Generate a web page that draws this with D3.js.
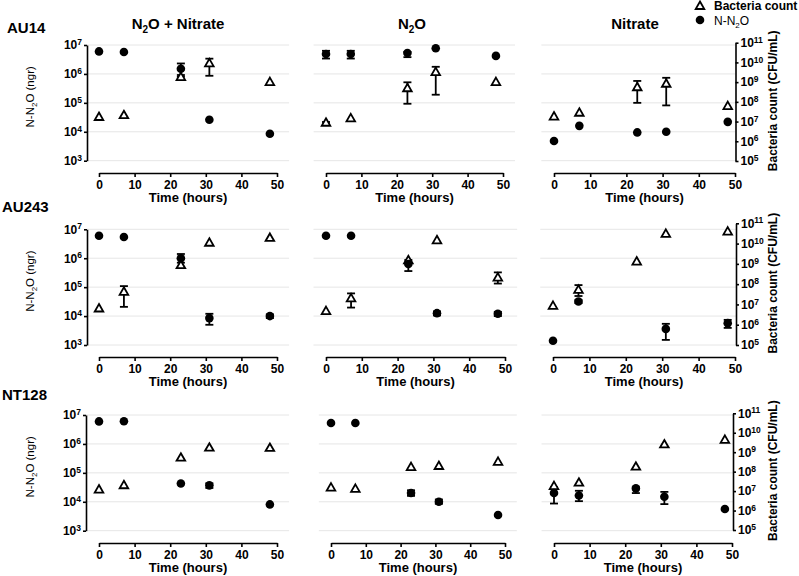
<!DOCTYPE html>
<html>
<head>
<meta charset="utf-8">
<script src="https://cdn.jsdelivr.net/npm/d3@7"></script>
<style>
  body { margin: 0; background: #fff; }
  svg { font-family: "Liberation Sans", Arial, sans-serif; }
  .axis path, .axis line { stroke: #000; stroke-width: 1.6px; }
  .axis text { fill: #000; font-weight: bold; font-size: 12px; }
</style>
</head>
<body>
<svg id="chart" width="799" height="576"></svg>
<script>
// ---------- DATA ----------
const strains = ["AU14", "AU243", "NT128"];
const conditions = ["N2O + Nitrate", "N2O", "Nitrate"];
const times = [0, 7, 23, 31, 48];
const xTicks = [0, 10, 20, 30, 40, 50];
const leftTicks = [1e3, 1e4, 1e5, 1e6, 1e7];
const rightTicks = [1e5, 1e6, 1e7, 1e8, 1e9, 1e10, 1e11];

// N-N2O (ngr), per condition [N2O + Nitrate, N2O, Nitrate]
const n2oAU14 = [
  [6e6, 5.7e6, 1.5e6, 2.6e4, 8.5e3],
  [4.9e6, 4.9e6, 5.3e6, 7.7e6, 4.2e6],
  [4.8e3, 1.6e4, 9.5e3, 1e4, 2.2e4]
];
const n2oErrAU14 = [
  [null, null, [8e5, 2.3e6], null, null],
  [[3.4e6, 6.3e6], [3.4e6, 6.3e6], [3.8e6, 5.8e6], null, null],
  [null, null, null, null, null]
];
const n2oAU243 = [
  [6e6, 5.4e6, 1e6, 8.5e3, 1e4],
  [6e6, 6e6, 6.3e5, 1.26e4, 1.2e4],
  [1.4e3, 3.2e4, null, 3.6e3, 5.7e3]
];
const n2oErrAU243 = [
  [null, null, [7e5, 1.4e6], [5e3, 1.2e4], [8.5e3, 1.15e4]],
  [null, null, [3.6e5, 8.7e5], [1.05e4, 1.45e4], [1e4, 1.4e4]],
  [null, [2.8e4, 3.6e4], null, [1.5e3, 5.4e3], [3.9e3, 7.4e3]]
];
const n2oNT128 = [
  [6e6, 6.1e6, 4.3e4, 3.7e4, 8.1e3],
  [5.3e6, 5.3e6, 2e4, 1e4, 3.5e3],
  [2e4, 1.65e4, 2.9e4, 1.5e4, 5.6e3]
];
const n2oErrNT128 = [
  [null, null, null, [3e4, 4.3e4], null],
  [null, null, [1.6e4, 2.5e4], [8.5e3, 1.2e4], null],
  [[8.7e3, 3.2e4], [1.05e4, 2.4e4], [2e4, 3.2e4], [8.3e3, 2.2e4], null]
];

// Bacteria count (CFU/mL)
const bactAU14 = [
  [1.7e7, 2.1e7, 1.8e9, 8.9e9, 1e9],
  [8.7e6, 1.45e7, 4.9e8, 3.2e9, 1e9],
  [1.8e7, 2.8e7, 5.5e8, 8.3e8, 6.1e7]
];
const bactErrAU14 = [
  [null, null, [1.3e9, 2.3e9], [2.1e9, 1.55e10], null],
  [[7e6, 9.5e6], null, [8e7, 9.8e8], [2.3e8, 6e9], null],
  [null, null, [8.9e7, 1.15e9], [6.6e7, 1.66e9], null]
];
const bactAU243 = [
  [6.3e6, 4.2e7, 8.6e8, 1.1e10, 1.9e10],
  [4.7e6, 2e7, 1.5e9, 1.45e10, 2.1e8],
  [8.5e6, 5.2e7, 1.3e9, 3e10, 3.9e10]
];
const bactErrAU243 = [
  [null, [7.6e6, 8e7], null, null, null],
  [null, [7e6, 3.5e7], null, null, [1.07e8, 3.8e8]],
  [null, [2.6e7, 9e7], null, null, null]
];
const bactNT128 = [
  [1.2e7, 2e7, 5.2e8, 1.7e9, 1.65e9],
  [1.5e7, 1.3e7, 1.7e8, 1.95e8, 3.2e8],
  [1.8e7, 2.7e7, 1.8e8, 2.5e9, 4.3e9]
];
const bactErrNT128 = [
  [null, null, null, null, null],
  [null, null, null, null, null],
  [null, null, null, null, null]
];

const n2oByStrain = [n2oAU14, n2oAU243, n2oNT128];
const n2oErrByStrain = [n2oErrAU14, n2oErrAU243, n2oErrNT128];
const bactByStrain = [bactAU14, bactAU243, bactNT128];
const bactErrByStrain = [bactErrAU14, bactErrAU243, bactErrNT128];

// ---------- LAYOUT ----------
const rowLayout = [
  { topL: 45, botL: 160.7, topR: 42.7, botR: 161, axisY: 173, leftX: 87, rightX: 735.5, labelY: 27 },
  { topL: 229.3, botL: 345, topR: 223.3, botR: 345, axisY: 357, leftX: 87, rightX: 736, labelY: 206 },
  { topL: 415, botL: 530.7, topR: 413.3, botR: 530, axisY: 543, leftX: 86, rightX: 733, labelY: 394 }
];
const colLayout = [
  [[99, 277], [326, 503], [554, 735]],
  [[99, 277], [326, 505], [553, 735]],
  [[99, 277], [331, 505], [554, 732]]
];

const svg = d3.select("#chart");

function supLabel(sel, d) {
  sel.text(null);
  sel.append("tspan").text("10");
  sel.append("tspan").attr("dy", "-0.5em").attr("font-size", "8.5px").text(Math.round(Math.log10(d)));
}

function triPath(cx, cy) {
  const h = 7.5, w = 4.3;
  return `M${cx},${cy - h * 0.6}L${cx + w},${cy + h * 0.4}L${cx - w},${cy + h * 0.4}Z`;
}

// legend
const leg = svg.append("g");
leg.append("path").attr("d", triPath(700, 6)).attr("fill", "#fff").attr("stroke", "#000").attr("stroke-width", 1.8);
leg.append("text").attr("x", 714).attr("y", 10).attr("font-size", 12).attr("font-weight", "bold").text("Bacteria count");
leg.append("circle").attr("cx", 700).attr("cy", 20).attr("r", 4.3).attr("fill", "#000");
const lt = leg.append("text").attr("x", 714).attr("y", 24.5).attr("font-size", 12);
lt.append("tspan").text("N-N");
lt.append("tspan").attr("font-size", 8).attr("dy", 3).text("2");
lt.append("tspan").attr("dy", -3).text("O");

// column titles
const titleCx = [178, 412, 635];
conditions.forEach((c, ci) => {
  const t = svg.append("text").attr("x", titleCx[ci]).attr("y", 29).attr("text-anchor", "middle")
    .attr("font-size", 15).attr("font-weight", "bold");
  if (c.startsWith("N2O")) {
    t.append("tspan").text("N");
    t.append("tspan").attr("font-size", 10).attr("dy", 4).text("2");
    t.append("tspan").attr("dy", -4).text("O" + c.slice(3));
  } else {
    t.text(c);
  }
});

strains.forEach((strain, ri) => {
  const R = rowLayout[ri];
  svg.append("text").attr("x", ri === 0 ? 7 : 2).attr("y", R.labelY + 6).attr("font-size", 15)
    .attr("font-weight", "bold").text(strain);

  const yL = d3.scaleLog().domain([1e3, 1e7]).range([R.botL, R.topL]);
  const yR = d3.scaleLog().domain([1e5, 1e11]).range([R.botR, R.topR]);

  conditions.forEach((cond, ci) => {
    const [x0, x50] = colLayout[ri][ci];
    const x = d3.scaleLinear().domain([0, 50]).range([x0, x50]);
    const g = svg.append("g");
    const gx0 = ci === 0 ? R.leftX : x(-3.5);
    const gx1 = ci === 2 ? R.rightX : x(53.4);

    // gridlines
    g.selectAll("line.grid").data(leftTicks).join("line")
      .attr("x1", gx0).attr("x2", gx1)
      .attr("y1", d => yL(d)).attr("y2", d => yL(d))
      .attr("stroke", "#e6e6e6").attr("stroke-width", 1);

    // x axis
    const xa = g.append("g").attr("class", "axis").attr("transform", `translate(0,${R.axisY})`)
      .call(d3.axisBottom(x).tickValues(xTicks).tickSize(4).tickSizeOuter(0).tickPadding(3));
    xa.selectAll(".tick text").attr("font-size", 12.5);
    g.append("text").attr("x", (x0 + x50) / 2).attr("y", R.axisY + 29).attr("text-anchor", "middle")
      .attr("font-size", 13).attr("font-weight", "bold").text("Time (hours)");

    if (ci === 0) {
      const ya = g.append("g").attr("class", "axis").attr("transform", `translate(${R.leftX},0)`)
        .call(d3.axisLeft(yL).tickValues(leftTicks).tickSize(3).tickSizeOuter(0).tickPadding(2));
      ya.selectAll(".tick text").each(function (d) { supLabel(d3.select(this), d); });
      const midY = (R.topL + R.botL) / 2 - 6;
      const lab = g.append("text").attr("transform", `translate(34,${midY}) rotate(-90)`)
        .attr("text-anchor", "middle").attr("font-size", 11.5);
      lab.append("tspan").text("N-N");
      lab.append("tspan").attr("font-size", 8).attr("dy", 3).text("2");
      lab.append("tspan").attr("dy", -3).text("O (ngr)");
    }
    if (ci === 2) {
      const ya = g.append("g").attr("class", "axis").attr("transform", `translate(${R.rightX},0)`)
        .call(d3.axisRight(yR).tickValues(rightTicks).tickSize(3).tickSizeOuter(0).tickPadding(2));
      ya.selectAll(".tick text").each(function (d) { supLabel(d3.select(this), d); });
      const midY = (R.topR + R.botR) / 2 - 1;
      g.append("text").attr("transform", `translate(777,${midY}) rotate(-90)`)
        .attr("text-anchor", "middle").attr("font-size", 12).attr("font-weight", "bold")
        .text("Bacteria count (CFU/mL)");
    }

    const n2o = n2oByStrain[ri][ci], n2oErr = n2oErrByStrain[ri][ci];
    const bact = bactByStrain[ri][ci], bactErr = bactErrByStrain[ri][ci];

    function errBars(vals, errs, y) {
      const data = times.map((t, i) => ({ t, e: errs[i] })).filter(d => d.e);
      const eg = g.append("g").attr("stroke", "#000").attr("stroke-width", 1.8);
      data.forEach(d => {
        const cx = x(d.t);
        eg.append("line").attr("x1", cx).attr("x2", cx).attr("y1", y(d.e[0])).attr("y2", y(d.e[1]));
        eg.append("line").attr("x1", cx - 4).attr("x2", cx + 4).attr("y1", y(d.e[0])).attr("y2", y(d.e[0]));
        eg.append("line").attr("x1", cx - 4).attr("x2", cx + 4).attr("y1", y(d.e[1])).attr("y2", y(d.e[1]));
      });
    }
    errBars(bact, bactErr, yR);
    errBars(n2o, n2oErr, yL);

    g.selectAll("path.tri").data(times.map((t, i) => ({ t, v: bact[i] })).filter(d => d.v != null))
      .join("path").attr("d", d => triPath(x(d.t), yR(d.v)))
      .attr("fill", "#fff").attr("stroke", "#000").attr("stroke-width", 1.8);
    g.selectAll("circle.dot").data(times.map((t, i) => ({ t, v: n2o[i] })).filter(d => d.v != null))
      .join("circle").attr("cx", d => x(d.t)).attr("cy", d => yL(d.v)).attr("r", 4.3).attr("fill", "#000");
  });
});
</script>
</body>
</html>
